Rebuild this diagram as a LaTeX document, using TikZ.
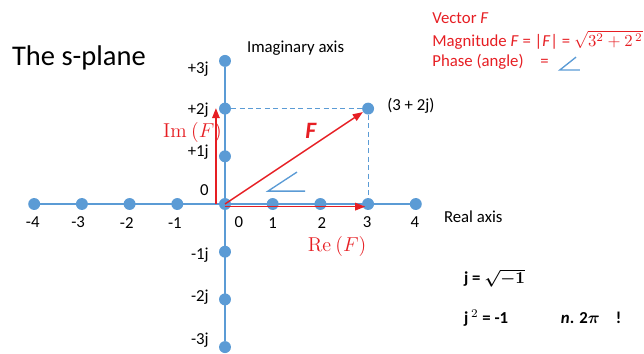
\documentclass[tikz,border=0pt]{standalone}
\usepackage{amsmath}
\usepackage[no-math]{fontspec}
\setmainfont{Carlito}
\definecolor{axblue}{RGB}{91,155,213}
\definecolor{vecred}{RGB}{230,30,35}
\usetikzlibrary{arrows.meta}

\tikzset{
  dot/.style={circle,fill=axblue,inner sep=0pt,minimum size=0.25cm},
  axisline/.style={axblue,line width=1.3pt},
  guide/.style={axblue,line width=0.6pt,dash pattern=on 3pt off 2pt},
  vec/.style={-{Triangle[length=6pt,width=4.5pt]},line width=0.9pt,vecred},
  lbl/.style={font=\fontsize{10}{12}\selectfont,inner sep=1pt},
  redtxt/.style={font=\fontsize{10}{12}\selectfont,text=vecred,anchor=west,inner sep=0pt},
  angsym/.style={axblue,line width=0.8pt},
}

\begin{document}
\begin{tikzpicture}
  \useasboundingbox (-4.717,-3.124) rectangle (8.784,4.277);

  % points on the two axes
  \foreach \i in {-4,...,4}
    \node[dot] (h\i) at (\i,0) {};
  \foreach \j in {-3,-2,-1,1,2,3}
    \node[dot] (v\j) at (0,\j) {};
  \node[dot] (pt) at (3,2) {};

  \draw[axisline] (h-4) -- (h4);
  \draw[axisline] (v3) -- (v-3);
  \draw[guide] (v2) -- (pt);
  \draw[guide] (pt) -- (h3);

  % vector and its parts
  \coordinate (imlo) at (-0.19,0);
  \coordinate (imhi) at (-0.19,2.01);
  \coordinate (relo) at (0,-0.055);
  \coordinate (rehi) at (2.94,-0.055);
  \draw[vec] (h0.center) -- (pt);
  \draw[vec] (imlo) -- (imhi);
  \draw[vec] (relo) -- (rehi);
  \draw[angsym] (1.51,0.67) -- (0.90,0.27) -- (1.68,0.27);

  % tick labels
  \foreach \i/\x in {-4/-4.03,-3/-3.08,-2/-2.06,-1/-1.05,0/0.29,1/1.0,2/2.03,3/2.98,4/3.98}
    \node[lbl] (t\i) at (\x,-0.39) {\i};
  \foreach \j/\y in {+3j/2.83,+2j/1.97,+1j/1.09,-1j/-1.07,-2j/-1.95,-3j/-2.85}
    \node[lbl,anchor=east] (s\j) at (-0.3,\y) {\j};
  \node[lbl,anchor=east] (szero) at (-0.3,0.29) {0};

  \node[anchor=base west,inner sep=0pt,font=\fontsize{17}{20}\selectfont] (title) at (-4.47,2.91) {The s-plane};
  \node[lbl,anchor=base west] (imax) at (0.42,3.17) {Imaginary axis};
  \node[lbl,anchor=west] (reax) at (4.55,-0.27) {Real axis};
  \node[lbl,anchor=west] (ptlbl) at (3.36,2.05) {(3 + 2j)};
  \node[text=vecred,font=\fontsize{11.5}{13}\selectfont] (imlbl) at (-0.68,1.51) {$\mathrm{Im}\ (F)$};
  \node[text=vecred,font=\fontsize{11.5}{13}\selectfont] (relbl) at (2.35,-0.90) {$\mathrm{Re}\ (F)$};
  \node[text=vecred,font=\fontsize{14}{16}\selectfont\bfseries\itshape] (flbl) at (1.80,1.53) {F};

  % notes, top right
  \node[redtxt] (vecF) at (4.34,3.90) {Vector \textit{F}};
  \node[redtxt] (magF) at (4.34,3.44) {Magnitude \textit{F} = |\textit{F}| = $\sqrt{3^2+2^{\,2}}$};
  \node[redtxt] (phF) at (4.34,2.98) {Phase (angle)\quad =};
  \draw[angsym] (7.36,3.08) -- (7.02,2.81) -- (7.44,2.81);

  % notes, bottom right
  \node[lbl,anchor=west,font=\fontsize{10}{12}\selectfont\bfseries] (jdef) at (4.97,-1.55) {j = $\boldsymbol{\sqrt{-1}}$};
  \node[lbl,anchor=west,font=\fontsize{10}{12}\selectfont\bfseries] (jsq) at (4.97,-2.39) {j\,$^2$ = -1};
  \node[lbl,anchor=west,font=\fontsize{10}{12}\selectfont\bfseries] (npi) at (7.0,-2.39) {\textit{n}. 2$\boldsymbol{\pi}$};
  \node[lbl,anchor=west,font=\fontsize{10}{12}\selectfont\bfseries] (bang) at (8.15,-2.39) {!};
\end{tikzpicture}
\end{document}
